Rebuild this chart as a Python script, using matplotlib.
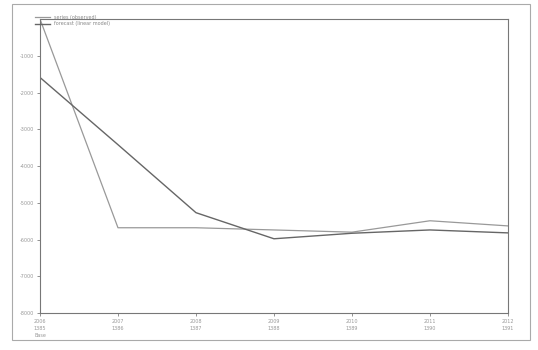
import matplotlib.pyplot as plt
from matplotlib.patches import Rectangle

x_labels = ['2006\n1385\nBase', '2007\n1386', '2008\n1387', '2009\n1388',
            '2010\n1389', '2011\n1390', '2012\n1391']
series_a = [0, -5680, -5680, -5740, -5800, -5490, -5630]
series_b = [-1590, -3420, -5270, -5980, -5830, -5740, -5820]
name_a = 'series (observed)'
name_b = 'forecast (linear model)'
y_ticks = [-1000, -2000, -3000, -4000, -5000, -6000, -7000, -8000]

fig = plt.figure(figsize=(5.38, 3.5), dpi=100)
ax = fig.add_axes([0.0743, 0.1057, 0.8699, 0.84])

xs = range(len(x_labels))
ax.plot(xs, series_a, color='#999999', lw=0.9, label=name_a)
ax.plot(xs, series_b, color='#666666', lw=1.0, label=name_b)

ax.set_xlim(0, len(x_labels) - 1)
ax.set_ylim(-8000, 0)
ax.set_xticks(list(xs))
ax.set_xticklabels(x_labels, fontsize=3.5, color='#999999', linespacing=1.6)
ax.set_yticks(y_ticks)
ax.set_yticklabels([str(v) for v in y_ticks], fontsize=3.5, color='#999999')
ax.tick_params(length=2, width=0.5, color='#666666', pad=2)

for s in ax.spines.values():
    s.set_color('#777777')
    s.set_linewidth(0.8)
    s.set_linestyle((0, (2, 1)))

leg = ax.legend(loc='lower left', bbox_to_anchor=(-0.01, 0.975), fontsize=3.5,
                frameon=False, handlelength=3, labelspacing=0.3,
                borderaxespad=0, borderpad=0)
for t in leg.get_texts():
    t.set_color('#888888')

fig.patches.append(Rectangle((0.022, 0.03), 0.963, 0.96, transform=fig.transFigure,
                             fill=False, edgecolor='#aaaaaa', lw=0.8))

fig.savefig('out.png', dpi=100)
